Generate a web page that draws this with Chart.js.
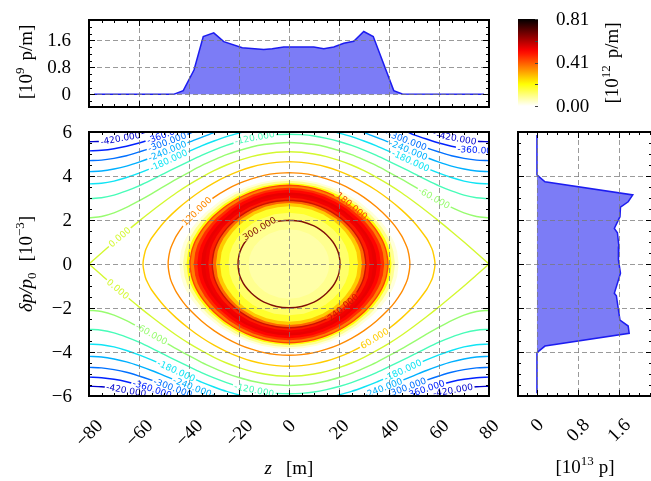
<!DOCTYPE html>
<html lang="en">
<head>
<meta charset="UTF-8">
<title>Longitudinal phase space</title>
<script src="https://cdn.jsdelivr.net/npm/chart.js"></script>
<style>
  html, body { margin: 0; padding: 0; background: #fff; }
  #wrap { position: relative; width: 651px; height: 481px; overflow: hidden; }
  #wrap canvas { position: absolute; left: 0; top: 0; }
</style>
</head>
<body>
<div id="wrap">
  <canvas id="main" width="651" height="481"></canvas>
  <canvas id="top" width="651" height="481"></canvas>
  <canvas id="side" width="700" height="481"></canvas>
  <canvas id="cbar" width="651" height="481"></canvas>
</div>
<script>
// ---- tick values and labels
const zTicks = [-80, -60, -40, -20, 0, 20, 40, 60, 80];
const zTickLabels = ['−80', '−60', '−40', '−20', '0', '20', '40', '60', '80'];
const dpTicks = [-6, -4, -2, 0, 2, 4, 6];
const dpTickLabels = ['−6', '−4', '−2', '0', '2', '4', '6'];
const densTicks = [0, 0.8, 1.6];
const densTickLabels = ['0', '0.8', '1.6'];
const cbMax = 0.81;
const cbTicks = [0, 0.41, 0.81];
const cbTickLabels = ['0.00', '0.41', '0.81'];

// ---- line density along z [1e9 p/m]
const topZ = [-78, -46.2, -42.3, -38, -34.3, -30.1, -26.1, -18.7, -10.1, -6.7, -2.1, 9.9, 13.9, 17.9, 21.9, 25.9, 29.9, 33.7, 41.9, 45.3, 78];
const topRho = [0, 0, 0.11, 0.72, 1.71, 1.82, 1.56, 1.38, 1.33, 1.35, 1.40, 1.40, 1.35, 1.40, 1.51, 1.57, 1.86, 1.71, 0.11, 0.01, 0];

// ---- projection on dp/p0 [1e13 p]
const sideDp = [5.86, 4.05, 3.74, 3.14, 2.83, 2.58, 2.15, 1.62, 1.42, 0.79, 0.18, -0.42, -0.73, -1.33, -1.45, -2.09, -2.55, -2.82, -3.15, -3.73, -4.03, -5.88];
const sideN = [0, 0, 0.156, 1.87, 1.78, 1.63, 1.62, 1.51, 1.57, 1.60, 1.59, 1.63, 1.59, 1.51, 1.55, 1.59, 1.62, 1.78, 1.80, 0.156, 0, 0];

// ---- contour lines, upper-left quarter [z, dp] (picture is symmetric)
const cN420 = [[-80,5.56],[-75,5.58],[-70,5.65],[-65,5.75],[-60,5.89],[-55,6.06]];
const cN360 = [[-80,5.14],[-75,5.17],[-70,5.24],[-65,5.35],[-60,5.50],[-55,5.68],[-50,5.87],[-45,6.08]];
const cN300 = [[-80,4.70],[-75,4.72],[-70,4.80],[-65,4.92],[-60,5.09],[-55,5.28],[-50,5.49],[-45,5.70],[-40,5.92],[-35,6.13]];
const cN240 = [[-80,4.20],[-75,4.23],[-70,4.32],[-65,4.45],[-60,4.63],[-55,4.84],[-50,5.07],[-45,5.30],[-40,5.54],[-35,5.76],[-30,5.97],[-25,6.16]];
const cN180 = [[-80,3.64],[-75,3.67],[-70,3.77],[-65,3.93],[-60,4.13],[-55,4.36],[-50,4.61],[-45,4.87],[-40,5.12],[-35,5.37],[-30,5.59],[-25,5.79],[-20,5.95],[-15,6.09]];
const cN120 = [[-80,2.97],[-75,3.01],[-70,3.13],[-65,3.32],[-60,3.55],[-55,3.82],[-50,4.11],[-45,4.39],[-40,4.67],[-35,4.94],[-30,5.18],[-25,5.39],[-20,5.57],[-15,5.71],[-10,5.82],[-5,5.88],[0,5.90]];
const cN60 = [[-80,2.10],[-75,2.16],[-70,2.32],[-65,2.57],[-60,2.87],[-55,3.19],[-50,3.53],[-45,3.86],[-40,4.17],[-35,4.47],[-30,4.73],[-25,4.97],[-20,5.16],[-15,5.32],[-10,5.43],[-5,5.49],[0,5.52]];
const c0 = [[-80,0],[-75,0.50],[-70,1.00],[-65,1.48],[-60,1.95],[-55,2.40],[-50,2.83],[-45,3.24],[-40,3.61],[-35,3.94],[-30,4.24],[-25,4.50],[-20,4.71],[-15,4.88],[-10,5.00],[-5,5.08],[0,5.10]];
const c60 = [[-58.4,0],[-57.5,0.59],[-56.5,0.86],[-55,1.17],[-50,1.90],[-45,2.46],[-40,2.93],[-35,3.34],[-30,3.69],[-25,3.98],[-20,4.22],[-15,4.41],[-10,4.54],[-5,4.62],[0,4.65]];
const c120 = [[-48.35,0],[-47.5,0.65],[-46,1.07],[-45,1.29],[-42.5,1.71],[-40,2.05],[-35,2.59],[-30,3.03],[-25,3.38],[-20,3.66],[-15,3.87],[-10,4.03],[-5,4.12],[0,4.15]];
const c180 = [[-39.6,0],[-39,0.54],[-38,0.90],[-37,1.14],[-35,1.52],[-32.5,1.88],[-30,2.18],[-25,2.65],[-20,3.00],[-15,3.26],[-10,3.44],[-5,3.54],[0,3.58]];
const c240 = [[-30.7,0],[-30,0.59],[-29,0.90],[-27.5,1.22],[-25,1.61],[-22.5,1.90],[-20,2.14],[-15,2.49],[-10,2.72],[-5,2.85],[0,2.90]];
const c300 = [[-20.4,0],[-20,0.40],[-19,0.72],[-17.5,1.01],[-15,1.33],[-12.5,1.56],[-10,1.73],[-5,1.93],[0,1.99]];

const contourLevels = [-420, -360, -300, -240, -180, -120, -60, 0, 60, 120, 180, 240, 300];
const contourPaths = [cN420, cN360, cN300, cN240, cN180, cN120, cN60, c0, c60, c120, c180, c240, c300];
const contourColors = ['#0000cc', '#0022ff', '#0070ff', '#00b0ff', '#10e4f4', '#48fcb8', '#98fc70', '#d4f830',
                       '#ffcc00', '#ff8a00', '#ff4400', '#cc1400', '#801008'];

// ---- inline contour labels (read positions)
const labelZ = [-67.4, -49, -48.6, -48.5, -48.1, -13.8, -67.4, -36.6, -12.2,
                67, 75.4, 47.4, 47.8, 48.6, 57.8, 25.4,
                -67.8, -54.6, -44.6, -38.2, -46.2, -54.6, -65, -13.8,
                21.4, 33.8, 45, 37.4, 47, 54.2, 65.4];
const labelDp = [5.68, 5.86, 5.5, 5.1, 4.7, 5.77, 1.18, 2.36, 1.68,
                 5.73, 5.18, 5.6, 5.18, 4.68, 2.95, 2.68,
                 -1.05, -3.1, -4.73, -5.45, -5.55, -5.64, -5.68, -5.64,
                 -1.95, -3.3, -4.7, -5.55, -5.55, -5.6, -5.6];
const labelLevel = [-420, -360, -300, -240, -180, -120, 0, 120, 300,
                    -420, -360, -300, -240, -180, -60, 180,
                    0, -60, -180, -240, -300, -360, -420, -120,
                    240, 60, -180, -240, -300, -360, -420];

// ---- density map rings [1e12 p/m]: half widths along z and dp, level
const bandZ = [43.9, 42.4, 41.0, 39.6, 38.1, 36.7, 35.2, 33.7, 32.3, 30.7, 29.2, 27.6, 24.2, 20.4, 16.1];
const bandD = [3.87, 3.78, 3.68, 3.58, 3.47, 3.37, 3.25, 3.14, 3.02, 2.90, 2.77, 2.63, 2.33, 2.00, 1.58];
const bandRho = [0.03, 0.09, 0.2, 0.36, 0.46, 0.51, 0.54, 0.53, 0.48, 0.39, 0.27, 0.17, 0.12, 0.09, 0.07];

const FONT = '19px "Liberation Serif"';
const LFONT = '9px "DejaVu Sans"';

function hot(t) {
  t = Math.max(0, Math.min(1, t));
  const r = Math.min(1, t / 0.365);
  const g = Math.max(0, Math.min(1, (t - 0.365) / 0.381));
  const b = Math.max(0, (t - 0.746) / 0.254);
  return 'rgb(' + Math.round(r * 255) + ',' + Math.round(g * 255) + ',' + Math.round(b * 255) + ')';
}
const hotR = v => hot(1 - v / cbMax);

function openArc(q, sign) {
  const arc = q.map(p => ({x: p[0], y: sign * p[1]}));
  for (let i = q.length - 1; i >= 0; i--) {
    if (q[i][0] === 0) continue;
    arc.push({x: -q[i][0], y: sign * q[i][1]});
  }
  return arc;
}
function closedLoop(q) {
  const upper = q.map(p => ({x: p[0], y: p[1]}));
  for (let i = q.length - 2; i >= 0; i--) upper.push({x: -q[i][0], y: q[i][1]});
  const lower = [];
  for (let i = upper.length - 2; i >= 1; i--) lower.push({x: upper[i].x, y: -upper[i].y});
  const pts = upper.concat(lower);
  const k = q.length - 1;
  return pts.slice(k).concat(pts.slice(0, k + 1));
}

const contourSets = [];
contourLevels.forEach((lev, i) => {
  const base = {showLine: true, borderColor: contourColors[i], borderWidth: 1.4, pointRadius: 0, tension: 0.3, fill: false, level: lev};
  if (lev <= 0) {
    contourSets.push(Object.assign({data: openArc(contourPaths[i], 1)}, base));
    contourSets.push(Object.assign({data: openArc(contourPaths[i], -1)}, base));
  } else {
    contourSets.push(Object.assign({data: closedLoop(contourPaths[i])}, base));
  }
});

// ---- drawing helpers
function rich(ctx, parts, x, y, rot) {
  const fontOf = s => (s === 'i' ? 'italic ' : '') + ((s === 'sup' || s === 'sub') ? 13 : 19) + 'px "Liberation Serif"';
  const widthOf = ([t, s]) => { if (s === 'gap') return t; ctx.font = fontOf(s); return ctx.measureText(t).width; };
  ctx.save();
  ctx.translate(x, y); ctx.rotate(rot || 0);
  let w = 0; parts.forEach(p => { w += widthOf(p); });
  let cx = -w / 2;
  ctx.textAlign = 'left'; ctx.textBaseline = 'alphabetic'; ctx.fillStyle = '#000';
  parts.forEach(p => {
    const [t, s] = p;
    if (s !== 'gap') {
      ctx.font = fontOf(s);
      const dy = s === 'sup' ? -8 : s === 'sub' ? 4 : 0;
      ctx.fillText(t, cx, 6 + dy);
    }
    cx += widthOf(p);
  });
  ctx.restore();
}

function steps(min, max, step) {
  const out = [];
  for (let v = Math.ceil(min / step - 1e-9) * step; v <= max + 1e-9; v += step) out.push(v);
  return out;
}

function drawGrid(chart, xs, ys) {
  const {ctx, chartArea: a, scales: {x, y}} = chart;
  ctx.save();
  ctx.strokeStyle = 'rgba(120,120,120,0.75)'; ctx.lineWidth = 1; ctx.setLineDash([5, 3]);
  xs.forEach(v => {
    const p = Math.round(x.getPixelForValue(v)) + 0.5;
    if (p <= a.left + 1 || p >= a.right - 1) return;
    ctx.beginPath(); ctx.moveTo(p, a.top); ctx.lineTo(p, a.bottom); ctx.stroke();
  });
  ys.forEach(v => {
    const p = Math.round(y.getPixelForValue(v)) + 0.5;
    if (p <= a.top + 1 || p >= a.bottom - 1) return;
    ctx.beginPath(); ctx.moveTo(a.left, p); ctx.lineTo(a.right, p); ctx.stroke();
  });
  ctx.restore();
}

function drawFrame(chart, xMajor, xMinor, yMajor, yMinor) {
  const {ctx, chartArea: a, scales: {x, y}} = chart;
  ctx.save();
  ctx.strokeStyle = '#000'; ctx.lineWidth = 1;
  const xt = (vals, len) => vals.forEach(v => {
    const p = Math.round(x.getPixelForValue(v)) + 0.5;
    ctx.beginPath(); ctx.moveTo(p, a.bottom); ctx.lineTo(p, a.bottom - len);
    ctx.moveTo(p, a.top); ctx.lineTo(p, a.top + len); ctx.stroke();
  });
  const yt = (vals, len) => vals.forEach(v => {
    const p = Math.round(y.getPixelForValue(v)) + 0.5;
    ctx.beginPath(); ctx.moveTo(a.left, p); ctx.lineTo(a.left + len, p);
    ctx.moveTo(a.right, p); ctx.lineTo(a.right - len, p); ctx.stroke();
  });
  xt(steps(x.min, x.max, xMinor), 3); xt(xMajor, 6);
  yt(steps(y.min, y.max, yMinor), 3); yt(yMajor, 6);
  ctx.lineWidth = 2;
  ctx.strokeRect(a.left, a.top, a.right - a.left, a.bottom - a.top);
  ctx.restore();
}

function rotTickLabels(ctx, scale, vals, texts, topY) {
  ctx.save();
  ctx.font = FONT; ctx.fillStyle = '#000'; ctx.textAlign = 'center'; ctx.textBaseline = 'middle';
  vals.forEach((v, i) => {
    const w = ctx.measureText(texts[i]).width;
    const bh = (w + 13) * Math.SQRT1_2;
    ctx.save();
    ctx.translate(scale.getPixelForValue(v), topY + bh / 2);
    ctx.rotate(-Math.PI / 4);
    ctx.fillText(texts[i], 0, 1);
    ctx.restore();
  });
  ctx.restore();
}

function yTickLabels(ctx, scale, vals, texts, rightX) {
  ctx.save();
  ctx.font = FONT; ctx.fillStyle = '#000'; ctx.textAlign = 'right'; ctx.textBaseline = 'middle';
  vals.forEach((v, i) => ctx.fillText(texts[i], rightX, scale.getPixelForValue(v) + 1));
  ctx.restore();
}

function placeLabels(chart) {
  const {x, y} = chart.scales;
  return labelLevel.map((lev, i) => {
    const px = x.getPixelForValue(labelZ[i]), py = y.getPixelForValue(labelDp[i]);
    let best = {d: Infinity, x: px, y: py, ang: 0};
    chart.data.datasets.forEach(ds => {
      if (ds.level !== lev) return;
      for (let k = 0; k < ds.data.length - 1; k++) {
        const ax = x.getPixelForValue(ds.data[k].x), ay = y.getPixelForValue(ds.data[k].y);
        const bx = x.getPixelForValue(ds.data[k + 1].x), by = y.getPixelForValue(ds.data[k + 1].y);
        const dx = bx - ax, dy = by - ay, L2 = dx * dx + dy * dy;
        let t = L2 ? ((px - ax) * dx + (py - ay) * dy) / L2 : 0;
        t = Math.max(0, Math.min(1, t));
        const qx = ax + t * dx, qy = ay + t * dy, d = Math.hypot(px - qx, py - qy);
        if (d < best.d) {
          let ang = Math.atan2(dy, dx);
          if (ang > Math.PI / 2) ang -= Math.PI;
          if (ang < -Math.PI / 2) ang += Math.PI;
          best = {d, x: qx, y: qy, ang};
        }
      }
    });
    best.text = lev.toFixed(3);
    best.color = contourColors[contourLevels.indexOf(lev)];
    return best;
  });
}

const mainDeco = {
  id: 'mainDeco',
  beforeDatasetsDraw(chart) {
    const {ctx, chartArea: a, scales: {x, y}} = chart;
    ctx.save();
    ctx.beginPath(); ctx.rect(a.left, a.top, a.right - a.left, a.bottom - a.top); ctx.clip();
    bandZ.forEach((bz, i) => {
      const base = bandD[i] >= 3.2 ? c180 : bandD[i] >= 2.5 ? c240 : c300;
      const sz = bz / -base[0][0], sd = bandD[i] / base[base.length - 1][1];
      ctx.beginPath();
      closedLoop(base).forEach((p, k) => {
        const px = x.getPixelForValue(p.x * sz), py = y.getPixelForValue(p.y * sd);
        if (k) ctx.lineTo(px, py); else ctx.moveTo(px, py);
      });
      ctx.closePath();
      ctx.fillStyle = hotR(bandRho[i]);
      ctx.fill();
    });
    ctx.restore();
    // leave gaps in the lines under the labels
    chart.$labels = placeLabels(chart);
    ctx.save();
    ctx.font = LFONT;
    ctx.beginPath();
    ctx.rect(a.left - 5, a.top - 5, a.right - a.left + 10, a.bottom - a.top + 10);
    chart.$labels.forEach(L => {
      const w = ctx.measureText(L.text).width / 2 + 1.5, h = 3.5;
      const c = Math.cos(L.ang), s = Math.sin(L.ang);
      const pts = [[-w, -h], [w, -h], [w, h], [-w, h]].map(([u, v]) => [L.x + u * c - v * s, L.y + u * s + v * c]);
      ctx.moveTo(pts[0][0], pts[0][1]);
      for (let k = 1; k < 4; k++) ctx.lineTo(pts[k][0], pts[k][1]);
      ctx.closePath();
    });
    ctx.clip('evenodd');
  },
  afterDatasetsDraw(chart) {
    const {ctx, chartArea: a, scales: {x, y}} = chart;
    ctx.restore();
    drawGrid(chart, zTicks, dpTicks);
    ctx.save();
    ctx.beginPath(); ctx.rect(a.left, a.top, a.right - a.left, a.bottom - a.top); ctx.clip();
    ctx.font = LFONT; ctx.textAlign = 'center'; ctx.textBaseline = 'middle';
    chart.$labels.forEach(L => {
      ctx.save(); ctx.translate(L.x, L.y); ctx.rotate(L.ang);
      ctx.fillStyle = L.color; ctx.fillText(L.text, 0, 0.5);
      ctx.restore();
    });
    ctx.restore();
    drawFrame(chart, zTicks, 5, dpTicks, 0.5);
    rotTickLabels(ctx, x, zTicks, zTickLabels, 418);
    yTickLabels(ctx, y, dpTicks, dpTickLabels, 72);
    rich(ctx, [['z', 'i'], [14, 'gap'], ['[m]', '']], 289, 468, 0);
    rich(ctx, [['δp/p', 'i'], ['0', 'sub'], [11, 'gap'], ['[10', ''], ['−3', 'sup'], [']', '']], 26, 264, -Math.PI / 2);
  }
};

const topDeco = {
  id: 'topDeco',
  afterDatasetsDraw(chart) {
    const {ctx, scales: {y}} = chart;
    drawGrid(chart, zTicks, densTicks);
    drawFrame(chart, zTicks, 5, densTicks, 0.2);
    yTickLabels(ctx, y, densTicks, densTickLabels, 71);
    rich(ctx, [['[10', ''], ['9', 'sup'], [7, 'gap'], ['p/m]', '']], 26, 62, -Math.PI / 2);
  }
};

const sideDeco = {
  id: 'sideDeco',
  afterDatasetsDraw(chart) {
    const {ctx, scales: {x}} = chart;
    drawGrid(chart, densTicks, dpTicks);
    drawFrame(chart, densTicks, 0.2, dpTicks, 0.5);
    rotTickLabels(ctx, x, densTicks, densTickLabels, 417);
    rich(ctx, [['[10', ''], ['13', 'sup'], [5, 'gap'], ['p]', '']], 585, 467, 0);
  }
};

const cbarDeco = {
  id: 'cbarDeco',
  afterDatasetsDraw(chart) {
    const {ctx, chartArea: a, scales: {y}} = chart;
    ctx.save();
    ctx.strokeStyle = '#444'; ctx.lineWidth = 1;
    [0, 0.25, 0.5, 0.75, 1].forEach(f => {
      const p = Math.round(y.getPixelForValue(f * cbMax)) + 0.5;
      ctx.beginPath(); ctx.moveTo(a.right, p); ctx.lineTo(a.right - 3, p); ctx.stroke();
    });
    ctx.font = FONT; ctx.fillStyle = '#000'; ctx.textAlign = 'left'; ctx.textBaseline = 'middle';
    cbTicks.forEach((v, i) => ctx.fillText(cbTickLabels[i], 556, y.getPixelForValue(v) + 1));
    ctx.restore();
    rich(ctx, [['[10', ''], ['12', 'sup'], [7, 'gap'], ['p/m]', '']], 612, 63, -Math.PI / 2);
  }
};

const common = {
  responsive: false, animation: false, devicePixelRatio: 1, events: [],
  plugins: {legend: {display: false}, tooltip: {enabled: false}}
};

new Chart(document.getElementById('main'), {
  type: 'scatter',
  data: {datasets: contourSets},
  options: Object.assign({}, common, {
    layout: {autoPadding: false, padding: {left: 89, top: 132, right: 651 - 489, bottom: 481 - 396}},
    scales: {
      x: {type: 'linear', min: -80, max: 80, display: false},
      y: {type: 'linear', min: -6, max: 6, display: false}
    }
  }),
  plugins: [mainDeco]
});

new Chart(document.getElementById('top'), {
  type: 'line',
  data: {datasets: [{
    data: topZ.map((z, i) => ({x: z, y: topRho[i]})),
    borderColor: '#1c1cf0', backgroundColor: '#7c7cf6', borderWidth: 1.5,
    pointRadius: 0, tension: 0, fill: 'origin'
  }]},
  options: Object.assign({}, common, {
    layout: {autoPadding: false, padding: {left: 89, top: 20, right: 651 - 489, bottom: 481 - 107}},
    scales: {
      x: {type: 'linear', min: -80, max: 80, display: false},
      y: {type: 'linear', min: -0.375, max: 2.2, display: false}
    }
  }),
  plugins: [topDeco]
});

new Chart(document.getElementById('side'), {
  type: 'line',
  data: {datasets: [{
    data: sideDp.map((d, i) => ({x: sideN[i], y: d})),
    borderColor: '#1c1cf0', backgroundColor: '#7c7cf6', borderWidth: 1.5,
    pointRadius: 0, tension: 0, fill: 'origin'
  }]},
  options: Object.assign({}, common, {
    indexAxis: 'y',
    layout: {autoPadding: false, padding: {left: 518, top: 132, right: 700 - 652, bottom: 481 - 396}},
    scales: {
      x: {type: 'linear', min: -0.37, max: 2.245, display: false},
      y: {type: 'linear', min: -6, max: 6, display: false}
    }
  }),
  plugins: [sideDeco]
});

new Chart(document.getElementById('cbar'), {
  type: 'bar',
  data: {labels: [''], datasets: [{
    data: [[0, cbMax]],
    barPercentage: 1, categoryPercentage: 1, borderWidth: 0,
    backgroundColor(c) {
      const a = c.chart.chartArea;
      if (!a) return '#fff';
      const g = c.chart.ctx.createLinearGradient(0, a.bottom, 0, a.top);
      for (let k = 0; k <= 20; k++) g.addColorStop(k / 20, hotR(k / 20 * cbMax));
      return g;
    }
  }]},
  options: Object.assign({}, common, {
    layout: {autoPadding: false, padding: {left: 518, top: 19, right: 651 - 538, bottom: 481 - 106}},
    scales: {
      x: {display: false},
      y: {type: 'linear', min: 0, max: cbMax, display: false}
    }
  }),
  plugins: [cbarDeco]
});
</script>
</body>
</html>
